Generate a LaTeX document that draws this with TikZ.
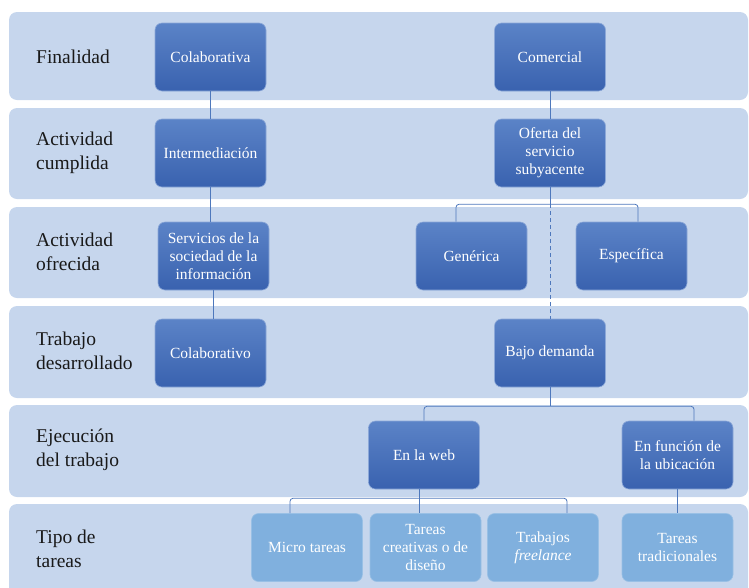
\documentclass[tikz,border=0pt]{standalone}
\usepackage{fontspec}
\setmainfont{Liberation Serif}
\usepackage{tikz}
\usetikzlibrary{calc}
\definecolor{bandblue}{HTML}{C6D6ED}
\definecolor{boxtop}{HTML}{5B83C7}
\definecolor{boxbot}{HTML}{3962AF}
\definecolor{lightfill}{HTML}{80B0DE}
\definecolor{linkblue}{HTML}{4E78BC}

\begin{document}
\begin{tikzpicture}[x=1pt, y=-1pt,
	band/.style={fill=bandblue, rounded corners=8pt},
	rowlabel/.style={anchor=west, align=left, text=black!90, inner sep=0pt, font=\fontsize{19.5}{24}\selectfont},
	darkbox/.style={rounded corners=7pt, top color=boxtop, bottom color=boxbot, draw=boxtop!70!white, line width=0.6pt, text=white, align=center, minimum width=111pt, minimum height=68pt, inner sep=2pt, font=\fontsize{15.5}{18}\selectfont},
	lightbox/.style={darkbox, top color=lightfill, bottom color=lightfill, draw=lightfill!80!white},
	link/.style={draw=linkblue, line width=0.8pt},
	]
		%%%%% START %%%%%
		\useasboundingbox (0,0) rectangle (749,587);
		
		\fill[band] (9, 12) rectangle (748, 100);
		\fill[band] (9, 108) rectangle (748, 199);
		\fill[band] (9, 207) rectangle (748, 298);
		\fill[band] (9, 306) rectangle (748, 398);
		\fill[band] (9, 405) rectangle (748, 497);
		\fill[band] (9, 504) rectangle (748, 600);
		
		\node[rowlabel] (lfin) at (36, 57) {Finalidad};
		\node[rowlabel] (lcum) at (36, 153) {Actividad\\cumplida};
		\node[rowlabel] (lofr) at (36, 252) {Actividad\\ofrecida};
		\node[rowlabel] (ltra) at (36, 351) {Trabajo\\desarrollado};
		\node[rowlabel] (leje) at (36, 450) {Ejecución\\del trabajo};
		\node[rowlabel] (ltip) at (36, 549) {Tipo de\\tareas};
		
		\node[darkbox] (colab) at (210.5, 57) {Colaborativa};
		\node[darkbox] (inter) at (210.5, 153) {Intermediación};
		\node[darkbox] (serv) at (213.5, 256) {Servicios de la\\sociedad de la\\información};
		\node[darkbox] (colabt) at (210.5, 353) {Colaborativo};
		
		\node[darkbox] (comer) at (550, 57) {Comercial};
		\node[darkbox] (ofer) at (550, 153) {Oferta del\\servicio\\subyacente};
		\node[darkbox] (gen) at (471.5, 256) {Genérica};
		\node[darkbox] (esp) at (631.5, 256) {Específica};
		\node[darkbox] (bajo) at (550, 353) {Bajo demanda};
		\node[darkbox] (web) at (424, 455) {En la web};
		\node[darkbox] (func) at (677.5, 455) {En función de\\la ubicación};
		
		\node[lightbox] (micro) at (307, 547.5) {Micro tareas};
		\node[lightbox] (creat) at (425.5, 547.5) {Tareas\\creativas o de\\diseño};
		\node[lightbox] (free) at (543, 547.5) {Trabajos\\\textit{freelance}};
		\node[lightbox] (trad) at (677.5, 547.5) {Tareas\\tradicionales};
		
		% left column
		\draw[link] (colab.south) -- (inter.north);
		\draw[link] (inter.south) -- (inter.south |- serv.north);
		\draw[link] (serv.south) -- (serv.south |- colabt.north);
		
		% right column
		\draw[link] (comer.south) -- (ofer.north);
		\coordinate (oferfork) at ($(ofer.south)+(0,17)$);
		\draw[link] (ofer.south) -- (oferfork);
		\draw[link, rounded corners=3pt] ([xshift=-15.5pt]gen.north) |- (oferfork) -| ([xshift=6.5pt]esp.north);
		\draw[link, dashed, dash pattern=on 4pt off 3pt] (oferfork) -- (bajo.north);
		
		\coordinate (bajofork) at ($(bajo.south)+(0,19)$);
		\draw[link] (bajo.south) -- (bajofork);
		\draw[link, rounded corners=3pt] (web.north) |- (bajofork) -| ([xshift=16.5pt]func.north);
		
		\coordinate (webfork) at ($(web.south)+(-5,9)$);
		\draw[link] ([xshift=-5pt]web.south) -- ([xshift=-5pt]web.south |- creat.north);
		\draw[link, rounded corners=3pt] ([xshift=-17pt]micro.north) |- (webfork) -| ([xshift=24pt]free.north);
		
		\draw[link] (func.south) -- (trad.north);
		
		%%%%% END %%%%%
\end{tikzpicture}
\end{document}
